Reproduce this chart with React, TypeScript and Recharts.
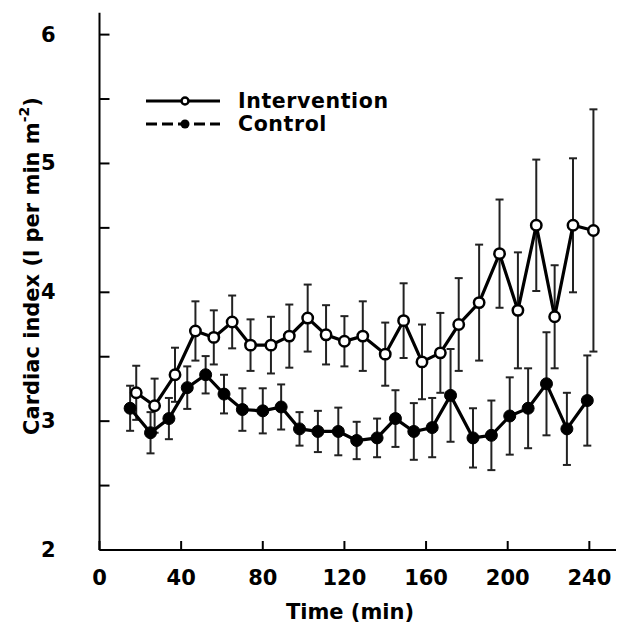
import { LineChart, Line, XAxis, YAxis, ErrorBar } from "recharts";

const FONT = '"DejaVu Sans", Verdana, sans-serif';

// time points (min)
const interventionTime = [18, 27, 37, 47, 56, 65, 74, 84, 93, 102, 111, 120, 129, 140, 149, 158, 167, 176, 186, 196, 205, 214, 223, 232, 242];
const interventionMean = [3.22, 3.12, 3.36, 3.7, 3.65, 3.77, 3.59, 3.59, 3.66, 3.8, 3.67, 3.62, 3.66, 3.52, 3.78, 3.46, 3.53, 3.75, 3.92, 4.3, 3.86, 4.52, 3.81, 4.52, 4.48];
const interventionErr = [0.21, 0.21, 0.21, 0.23, 0.21, 0.205, 0.2, 0.22, 0.245, 0.26, 0.23, 0.195, 0.27, 0.245, 0.29, 0.29, 0.31, 0.36, 0.45, 0.42, 0.45, 0.51, 0.4, 0.52, 0.94];

const controlTime = [15, 25, 34, 43, 52, 61, 70, 80, 89, 98, 107, 117, 126, 136, 145, 154, 163, 172, 183, 192, 201, 210, 219, 229, 239];
const controlMean = [3.1, 2.91, 3.02, 3.26, 3.36, 3.21, 3.09, 3.08, 3.11, 2.94, 2.92, 2.92, 2.85, 2.87, 3.02, 2.92, 2.95, 3.2, 2.87, 2.89, 3.04, 3.1, 3.29, 2.94, 3.16];
const controlErr = [0.175, 0.16, 0.16, 0.165, 0.145, 0.15, 0.165, 0.175, 0.175, 0.13, 0.16, 0.185, 0.145, 0.15, 0.22, 0.22, 0.23, 0.36, 0.23, 0.27, 0.3, 0.31, 0.4, 0.28, 0.35];

const xTicks = [0, 40, 80, 120, 160, 200, 240];
const yTicks = [2, 2.5, 3, 3.5, 4, 4.5, 5, 5.5, 6];

const interventionData = interventionTime.map((t, i) => ({
  t,
  v: interventionMean[i],
  err: interventionErr[i],
}));
const controlData = controlTime.map((t, i) => ({
  t,
  v: controlMean[i],
  err: controlErr[i],
}));

const YTick = (props: any) => {
  const { x, y, payload } = props;
  const v = payload.value;
  return (
    <g>
      <line x1={x} y1={y} x2={x + 10} y2={y} stroke="#000" strokeWidth={2} />
      {Number.isInteger(v) && (
        <text
          x={x - 44}
          y={y}
          textAnchor="end"
          dominantBaseline="central"
          fontFamily={FONT}
          fontWeight="bold"
          fontSize={21}
          fill="#000"
        >
          {v}
        </text>
      )}
    </g>
  );
};

const XTick = (props: any) => {
  const { x, y, payload } = props;
  return (
    <g>
      <line x1={x} y1={y} x2={x} y2={y - 9} stroke="#000" strokeWidth={2} />
      <text
        x={x}
        y={y + 28}
        textAnchor="middle"
        dominantBaseline="central"
        fontFamily={FONT}
        fontWeight="bold"
        fontSize={21}
        fill="#000"
      >
        {payload.value}
      </text>
    </g>
  );
};

const OpenDot = (props: any) => {
  const { cx, cy } = props;
  return <circle cx={cx} cy={cy} r={5.2} fill="#fff" stroke="#000" strokeWidth={2.5} />;
};

const FilledDot = (props: any) => {
  const { cx, cy } = props;
  return <circle cx={cx} cy={cy} r={6} fill="#000" stroke="#000" strokeWidth={1} />;
};

const LegendBox = () => (
  <svg
    width={300}
    height={50}
    style={{ position: "absolute", left: 130, top: 80 }}
  >
    <line x1={8} y1={13} x2={82} y2={13} stroke="#000" strokeWidth={3} />
    <circle cx={47} cy={13} r={3.5} fill="#fff" stroke="#000" strokeWidth={2.5} />
    <text x={100} y={13} dominantBaseline="central" fontFamily={FONT} fontWeight="bold" fontSize={20.5} letterSpacing={0.6}>
      Intervention
    </text>
    <line x1={8} y1={36} x2={82} y2={36} stroke="#000" strokeWidth={3} strokeDasharray="11 5" />
    <circle cx={47} cy={36} r={4.5} fill="#000" />
    <text x={100} y={36} dominantBaseline="central" fontFamily={FONT} fontWeight="bold" fontSize={20.5} letterSpacing={0.6}>
      Control
    </text>
  </svg>
);

export default function App() {
  return (
    <div style={{ position: "relative", width: 616, height: 620 }}>
      <LineChart
        width={616}
        height={620}
        margin={{ top: 4.7, right: 2, bottom: 8, left: 0 }}
        style={{ fontFamily: FONT }}
      >
        <XAxis
          type="number"
          dataKey="t"
          domain={[0, 256]}
          ticks={xTicks}
          interval={0}
          allowDuplicatedCategory={false}
          height={70}
          tickSize={0}
          tickMargin={0}
          tick={<XTick />}
          axisLine={{ stroke: "#000", strokeWidth: 2 }}
          tickLine={false}
          label={{
            content: () => (
              <text
                x={342}
                y={604}
                textAnchor="middle"
                dominantBaseline="central"
                fontFamily={FONT}
                fontWeight="bold"
                fontSize={21}
              >
                Time (min)
              </text>
            ),
          }}
        />
        <YAxis
          type="number"
          domain={[2, 6.17]}
          ticks={yTicks}
          interval={0}
          width={91.5}
          tickSize={0}
          tickMargin={0}
          tick={<YTick />}
          axisLine={{ stroke: "#000", strokeWidth: 2 }}
          tickLine={false}
          label={{
            content: () => (
              <text
                x={24}
                y={258}
                transform="rotate(-90 24 258)"
                textAnchor="middle"
                dominantBaseline="central"
                fontFamily={FONT}
                fontWeight="bold"
                fontSize={21}
              >
                Cardiac index (l per min m
                <tspan fontSize={14} dy={-8}>-2</tspan>
                <tspan dy={8}>)</tspan>
              </text>
            ),
          }}
        />
        <Line
          data={interventionData}
          dataKey="v"
          stroke="#000"
          strokeWidth={3.2}
          dot={<OpenDot />}
          activeDot={false}
          isAnimationActive={false}
          legendType="none"
        >
          <ErrorBar dataKey="err" width={4} stroke="#222" strokeWidth={2} direction="y" />
        </Line>
        <Line
          data={controlData}
          dataKey="v"
          stroke="#000"
          strokeWidth={3.2}
          dot={<FilledDot />}
          activeDot={false}
          isAnimationActive={false}
          legendType="none"
        >
          <ErrorBar dataKey="err" width={4} stroke="#222" strokeWidth={2} direction="y" />
        </Line>
      </LineChart>
      <LegendBox />
    </div>
  );
}
